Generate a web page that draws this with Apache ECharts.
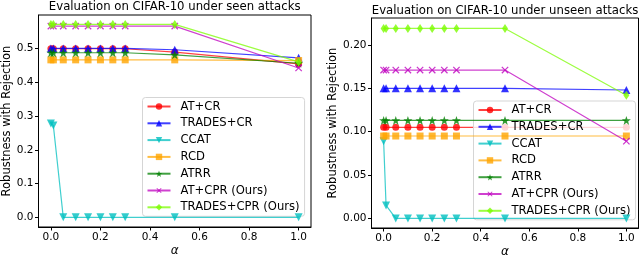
<!DOCTYPE html>
<html><head><meta charset="utf-8">
<script src="https://cdn.jsdelivr.net/npm/echarts@6/dist/echarts.min.js"></script>
<style>html,body{margin:0;padding:0;background:#fff}#c{width:640px;height:256px}</style>
</head><body><div id="c"></div>
<script>
// ---- data ----
const alphas = [0, 0.01, 0.05, 0.1, 0.15, 0.2, 0.25, 0.3, 0.5, 1.0];
const seriesNames = ['AT+CR', 'TRADES+CR', 'CCAT', 'RCD', 'ATRR', 'AT+CPR (Ours)', 'TRADES+CPR (Ours)'];

// seen attacks (left panel)
const seenATCR      = [0.500, 0.500, 0.500, 0.500, 0.500, 0.500, 0.500, 0.500, 0.490, 0.455];
const seenTRADESCR  = [0.501, 0.501, 0.501, 0.501, 0.501, 0.501, 0.501, 0.501, 0.497, 0.473];
const seenCCAT      = [0.278, 0.272, 0.000, 0.000, 0.000, 0.000, 0.000, 0.000, 0.000, 0.000];
const seenRCD       = [0.467, 0.467, 0.467, 0.467, 0.467, 0.467, 0.467, 0.467, 0.467, 0.465];
const seenATRR      = [0.488, 0.488, 0.488, 0.488, 0.488, 0.488, 0.488, 0.488, 0.482, 0.457];
const seenATCPR     = [0.567, 0.567, 0.567, 0.567, 0.567, 0.567, 0.567, 0.567, 0.567, 0.443];
const seenTRADESCPR = [0.572, 0.572, 0.572, 0.572, 0.572, 0.572, 0.572, 0.572, 0.572, 0.461];

// unseen attacks (right panel)
const unseenATCR      = [0.105, 0.105, 0.105, 0.105, 0.105, 0.105, 0.105, 0.105, 0.105, 0.105];
const unseenTRADESCR  = [0.150, 0.150, 0.150, 0.150, 0.150, 0.150, 0.150, 0.150, 0.150, 0.148];
const unseenCCAT      = [0.089, 0.015, 0.000, 0.000, 0.000, 0.000, 0.000, 0.000, 0.000, 0.000];
const unseenRCD       = [0.095, 0.095, 0.095, 0.095, 0.095, 0.095, 0.095, 0.095, 0.095, 0.095];
const unseenATRR      = [0.113, 0.113, 0.113, 0.113, 0.113, 0.113, 0.113, 0.113, 0.113, 0.113];
const unseenATCPR     = [0.171, 0.171, 0.171, 0.171, 0.171, 0.171, 0.171, 0.171, 0.171, 0.089];
const unseenTRADESCPR = [0.219, 0.219, 0.219, 0.219, 0.219, 0.219, 0.219, 0.219, 0.219, 0.142];

const xTicks = [0, 0.2, 0.4, 0.6, 0.8, 1.0];
const yTicksSeen = [0, 0.1, 0.2, 0.3, 0.4, 0.5];
const yTicksUnseen = [0, 0.05, 0.10, 0.15, 0.20];

const titles = ['Evaluation on CIFAR-10 under seen attacks', 'Evaluation on CIFAR-10 under unseen attacks'];
const yLabel = 'Robustness with Rejection';
const xLabel = 'α';

// ---- styles ----
const colors = ['#ff0000', '#0000ff', '#00bfbf', '#ffa500', '#008000', '#bf00bf', '#7cfc00'];
const STAR = 'path://M0,-10 L2.35,-3.24 9.51,-3.09 3.8,1.24 5.88,8.09 0,4 -5.88,8.09 -3.8,1.24 -9.51,-3.09 -2.35,-3.24Z';
const XMARK = 'path://M4.3,0 H5.7 V4.3 H10 V5.7 H5.7 V10 H4.3 V5.7 H0 V4.3 H4.3 Z';
const symbols = [
  {symbol: 'circle', symbolSize: 7, symbolRotate: 0},
  {symbol: 'triangle', symbolSize: 8, symbolRotate: 0},
  {symbol: 'triangle', symbolSize: 8, symbolRotate: 180},
  {symbol: 'rect', symbolSize: 7, symbolRotate: 0},
  {symbol: STAR, symbolSize: 9, symbolRotate: 0},
  {symbol: XMARK, symbolSize: 9, symbolRotate: 45},
  {symbol: 'diamond', symbolSize: [6, 9], symbolRotate: 0}
];
const FONT = 'DejaVu Sans';

const seenSets = [seenATCR, seenTRADESCR, seenCCAT, seenRCD, seenATRR, seenATCPR, seenTRADESCPR];
const unseenSets = [unseenATCR, unseenTRADESCR, unseenCCAT, unseenRCD, unseenATRR, unseenATCPR, unseenTRADESCPR];

function mkSeries(sets, gi) {
  return sets.map((vals, i) => ({
    type: 'line',
    name: seriesNames[i],
    xAxisIndex: gi, yAxisIndex: gi,
    data: alphas.map((a, k) => [a, vals[k]]),
    symbol: symbols[i].symbol,
    symbolSize: symbols[i].symbolSize,
    symbolRotate: symbols[i].symbolRotate,
    showAllSymbol: true,
    color: colors[i],
    lineStyle: {width: 1.2, color: colors[i], opacity: 0.75},
    itemStyle: {color: colors[i], opacity: 0.8},
    emphasis: {disabled: true},
    animation: false,
    z: 2 + i
  }));
}

function xAx(gi) {
  return {
    type: 'value', gridIndex: gi, min: -0.05, max: 1.05,
    name: xLabel, nameLocation: 'middle', nameGap: 18, nameMoveOverlap: false,
    nameTextStyle: {fontStyle: 'italic', fontSize: 12, fontFamily: FONT, color: '#000'},
    axisLine: {show: true, onZero: false, lineStyle: {color: '#000', width: 1}},
    axisTick: {show: true, customValues: xTicks, length: 3.5, inside: false, lineStyle: {color: '#000'}},
    axisLabel: {show: true, customValues: xTicks, formatter: v => v.toFixed(1), fontSize: 10.5, fontFamily: FONT, color: '#000', margin: 5},
    splitLine: {show: false}
  };
}
function yAx(gi, min, max, ticks, dec, gap) {
  return {
    type: 'value', gridIndex: gi, min: min, max: max,
    name: yLabel, nameLocation: 'middle', nameGap: gap,
    nameTextStyle: {fontSize: 11.5, fontFamily: FONT, color: '#000'},
    axisLine: {show: true, onZero: false, lineStyle: {color: '#000', width: 1}},
    axisTick: {show: true, customValues: ticks, length: 3.5, inside: false, lineStyle: {color: '#000'}},
    axisLabel: {show: true, customValues: ticks, formatter: v => v.toFixed(dec), fontSize: 10.5, fontFamily: FONT, color: '#000', margin: 5},
    splitLine: {show: false}
  };
}
function legend(left, top) {
  return {
    data: seriesNames, orient: 'vertical', left: left, top: top,
    itemWidth: 23, itemHeight: 8, itemGap: 4.8,
    padding: [3, 5, 3, 4],
    backgroundColor: 'rgba(255,255,255,0.8)',
    borderColor: '#d5d5d5', borderWidth: 1, borderRadius: 3,
    textStyle: {fontSize: 11.6, fontFamily: FONT, color: '#000', padding: [0, 0, 0, 5]},
    selectedMode: false
  };
}

const chart = echarts.init(document.getElementById('c'), null, {renderer: 'canvas'});
chart.setOption({
  animation: false,
  backgroundColor: '#fff',
  grid: [
    {left: 38.5, top: 15, width: 272.5, height: 212, show: true, borderColor: '#000', borderWidth: 1, backgroundColor: 'transparent', containLabel: false, outerBoundsMode: 'none'},
    {left: 371.5, top: 18, width: 267, height: 210, show: true, borderColor: '#000', borderWidth: 1, backgroundColor: 'transparent', containLabel: false, outerBoundsMode: 'none'}
  ],
  xAxis: [xAx(0), xAx(1)],
  yAxis: [yAx(0, -0.0286, 0.6, yTicksSeen, 1, 25), yAx(1, -0.011, 0.231, yTicksUnseen, 2, 31)],
  legend: [legend(142.5, 97.5), legend(473.5, 101)],
  graphic: [
    {type: 'text', x: 174.7, y: 7, style: {text: titles[0], fontSize: 11.7, fontFamily: FONT, fill: '#000', align: 'center', verticalAlign: 'middle'}},
    {type: 'text', x: 505, y: 10.5, style: {text: titles[1], fontSize: 11.7, fontFamily: FONT, fill: '#000', align: 'center', verticalAlign: 'middle'}}
  ],
  series: mkSeries(seenSets, 0).concat(mkSeries(unseenSets, 1))
});
</script>
</body></html>
